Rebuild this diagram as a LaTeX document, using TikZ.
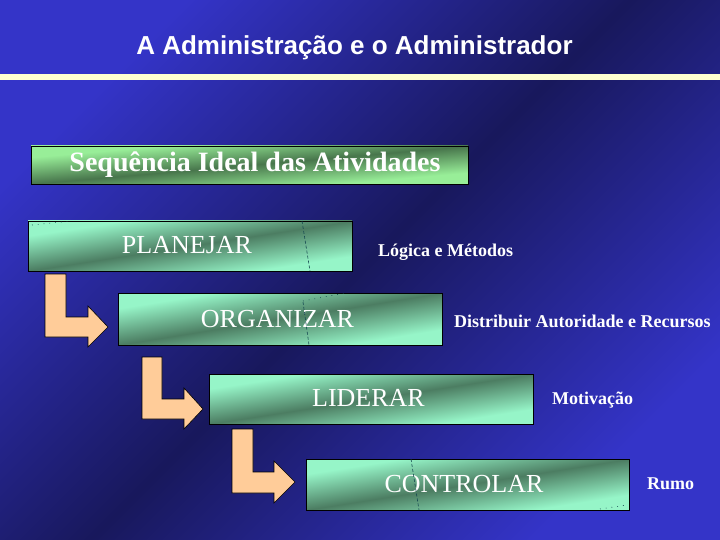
\documentclass[tikz,border=0pt]{standalone}
\usepackage{fontspec}
\setmainfont{Liberation Serif}
\newfontfamily\titlefont{Liberation Sans}
\newcommand{\mygreenfill}[6]{%
  \pgfmathsetmacro{\gfk}{#3/#4}%
  \shade[transform canvas={shift={(#1,#2)}, xscale=\gfk},
    top color=#5, bottom color=#5, middle color=#6, shading angle=45] (0,0) rectangle (#4,#4);
}
\begin{document}
\begin{tikzpicture}[x=1pt,y=-1pt]
\definecolor{bgbright}{RGB}{52,52,200}
\definecolor{bgdark}{RGB}{24,24,92}
\definecolor{boxlight}{RGB}{150,245,200}
\definecolor{boxdark}{RGB}{76,125,98}
\definecolor{hdrlight}{RGB}{152,238,152}
\definecolor{hdrdark}{RGB}{72,118,76}
\definecolor{peach}{RGB}{255,204,153}
\definecolor{cream}{RGB}{255,255,208}
\definecolor{artc}{RGB}{20,70,80}
\tikzset{
  stepbox/.style={draw=black, line width=0.8pt,
    text=white, font=\fontsize{26}{30}\selectfont, inner sep=0pt},
  hdrbox/.style={draw=black, line width=0.8pt,
    text=white, font=\bfseries\fontsize{28}{32}\selectfont, inner sep=0pt},
  sidelabel/.style={text=white, font=\bfseries\fontsize{18}{21}\selectfont, anchor=west, inner sep=0pt},
  flowarrow/.style={fill=peach, draw=black, line width=0.6pt, line join=miter},
  artifact/.style={draw=artc, line width=0.6pt, dash pattern=on 3pt off 2pt},
  artdots/.style={draw=artc, line width=0.6pt, dash pattern=on 0.8pt off 5pt},
}
\useasboundingbox (0,0) rectangle (720,540);
% background
\shade[top color=bgbright, bottom color=bgbright, middle color=bgdark, shading angle=45] (0,0) rectangle (720,540);
% title and rule
\node[font=\titlefont\bfseries\fontsize{26}{30}\selectfont, text=white] (title) at (354.5,47.5) {A Administração e o Administrador};
\fill[cream] (0,74) rectangle (720,80);
% gradient fills of the boxes
\mygreenfill{31}{146}{437}{38}{hdrlight}{hdrdark}
\mygreenfill{28}{221}{324}{50}{boxlight}{boxdark}
\mygreenfill{118}{293}{324}{52}{boxlight}{boxdark}
\mygreenfill{209}{374}{324}{50}{boxlight}{boxdark}
\mygreenfill{306}{459}{323}{51}{boxlight}{boxdark}
% header
\node[hdrbox, minimum width=437pt, minimum height=38pt] (hdr) at (249.5,165) {\kern11pt\raisebox{1.5pt}{Sequência Ideal das Atividades}};
% steps
\node[stepbox, minimum width=324pt, minimum height=50pt] (plan) at (190,246) {\kern-6pt\raisebox{2.5pt}{PLANEJAR}};
\node[stepbox, minimum width=324pt, minimum height=52pt] (org) at (280,319) {\kern-5pt\raisebox{1pt}{ORGANIZAR}};
\node[stepbox, minimum width=324pt, minimum height=50pt] (lid) at (371,399) {\kern-5pt\raisebox{2pt}{LIDERAR}};
\node[stepbox, minimum width=323pt, minimum height=51pt] (ctrl) at (467.5,484.5) {\kern-7pt\raisebox{1.5pt}{CONTROLAR}};
% artefacts inside boxes
\draw[artifact] (302,221) -- (310,271);
\draw[artdots] (32,225) -- (71,221);
\draw[artifact] (303,302) -- (309,345);
\draw[artdots] (303,301) -- (345,293);
\draw[artifact] (411,459) -- (419,510);
\draw[artdots] (600,509) -- (627,505);
% side labels
\node[sidelabel] (l1) at (378,252) {Lógica e Métodos};
\node[sidelabel] (l2) at (454,321) {Distribuir Autoridade e Recursos};
\node[sidelabel] (l3) at (552,400) {Motivação};
\node[sidelabel] (l4) at (647,484) {Rumo};
% L-shaped arrows
\draw[flowarrow] (45,274) -- (66,274) -- (66,317) -- (88,317) -- (88,306) -- (108,327) -- (88,347) -- (88,337) -- (45,337) -- cycle;
\draw[flowarrow] (142,357) -- (162,357) -- (162,399) -- (184,399) -- (184,388) -- (203,409) -- (184,429) -- (184,419) -- (142,419) -- cycle;
\draw[flowarrow] (232,429) -- (253,429) -- (253,472) -- (274,472) -- (274,461) -- (295,482) -- (274,503) -- (274,493) -- (232,493) -- cycle;
\end{tikzpicture}
\end{document}
